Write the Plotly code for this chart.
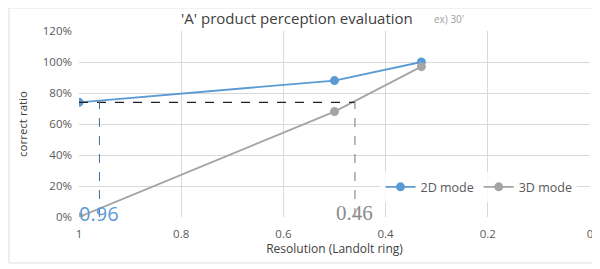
import plotly.graph_objects as go

resolution = [1.0, 0.5, 0.33]
mode_2d = [0.74, 0.88, 1.00]
mode_3d = [0.00, 0.68, 0.97]
series_names = ["2D mode", "3D mode"]
threshold_y = 0.74
cross_2d = 0.96
cross_3d = 0.46
x_ticks = [1, 0.8, 0.6, 0.4, 0.2, 0]
x_tick_text = ["1", "0.8", "0.6", "0.4", "0.2", "0"]
y_ticks = [0, 0.2, 0.4, 0.6, 0.8, 1.0, 1.2]
y_tick_text = ["0%", "20%", "40%", "60%", "80%", "100%", "120%"]

BLUE = "#5B9BD5"
GRAY = "#A5A5A5"
FONT = "Open Sans"

fig = go.Figure()
fig.add_trace(go.Scatter(x=resolution, y=mode_2d, name=series_names[0], mode="lines+markers",
                         line=dict(color=BLUE, width=1.8), marker=dict(color=BLUE, size=9)))
fig.add_trace(go.Scatter(x=resolution, y=mode_3d, name=series_names[1], mode="lines+markers",
                         line=dict(color=GRAY, width=1.8), marker=dict(color=GRAY, size=9)))

# dashed guide lines
fig.add_trace(go.Scatter(x=[resolution[0], cross_3d], y=[threshold_y, threshold_y], mode="lines",
                         line=dict(color="#222222", width=1.2, dash="dash"), showlegend=False, hoverinfo="skip"))
fig.add_trace(go.Scatter(x=[cross_2d, cross_2d], y=[0, threshold_y], mode="lines",
                         line=dict(color="#3F6F9F", width=1.0, dash="dash"), showlegend=False, hoverinfo="skip"))
fig.add_trace(go.Scatter(x=[cross_3d, cross_3d], y=[0, threshold_y], mode="lines",
                         line=dict(color="#777777", width=1.0, dash="dash"), showlegend=False, hoverinfo="skip"))

fig.add_annotation(x=cross_2d, y=0, text=str(cross_2d), showarrow=False, xanchor="center", yanchor="middle",
                   yshift=4, font=dict(family=FONT, size=20, color=BLUE))
fig.add_annotation(x=cross_3d, y=0, text=str(cross_3d), showarrow=False, xanchor="center", yanchor="middle",
                   yshift=4, font=dict(family="Liberation Serif", size=21, color="#8C8C8C"))

fig.add_annotation(xref="paper", yref="paper", x=0.427, y=1.0, yshift=13, showarrow=False, xanchor="center",
                   yanchor="middle",
                   text="'A' product perception evaluation", font=dict(family=FONT, size=15, color="#404040"))
fig.add_annotation(xref="paper", yref="paper", x=0.69, y=1.0, yshift=12, showarrow=False, xanchor="left",
                   yanchor="middle",
                   text="ex) 30'", font=dict(family=FONT, size=10, color="#A0A0A0"))

fig.update_layout(
    width=592, height=261, autosize=False,
    margin=dict(l=71, r=10, t=23, b=52, autoexpand=False),
    paper_bgcolor="white", plot_bgcolor="white",
    font=dict(family=FONT, size=11.5, color="#595959"),
    showlegend=True,
    legend=dict(orientation="h", x=0.59, y=0.16, xanchor="left", yanchor="middle",
                bgcolor="rgba(255,255,255,0.8)", font=dict(size=12.5, color="#595959"),
                itemwidth=30, tracegroupgap=0),
    xaxis=dict(range=[1, 0], tickvals=x_ticks, ticktext=x_tick_text, showgrid=True,
               gridcolor="#D9D9D9", zeroline=False, showline=False, ticks="", automargin=False,
               ticklabelstandoff=8,
               title=dict(text="Resolution (Landolt ring)", font=dict(size=12, color="#404040"), standoff=0)),
    yaxis=dict(range=[0, 1.2], tickvals=y_ticks, ticktext=y_tick_text, showgrid=True,
               gridcolor="#D9D9D9", zeroline=False, showline=False, ticks="", automargin=False,
               ticklabelstandoff=6,
               title=dict(text="correct ratio", font=dict(size=11.5, color="#404040"), standoff=12)),
    shapes=[dict(type="rect", xref="paper", yref="paper", x0=-0.137, x1=1.016, y0=-0.247, y1=1.124,
                 line=dict(color="#DDDDDD", width=1))],
)

fig.write_html("out.html")
